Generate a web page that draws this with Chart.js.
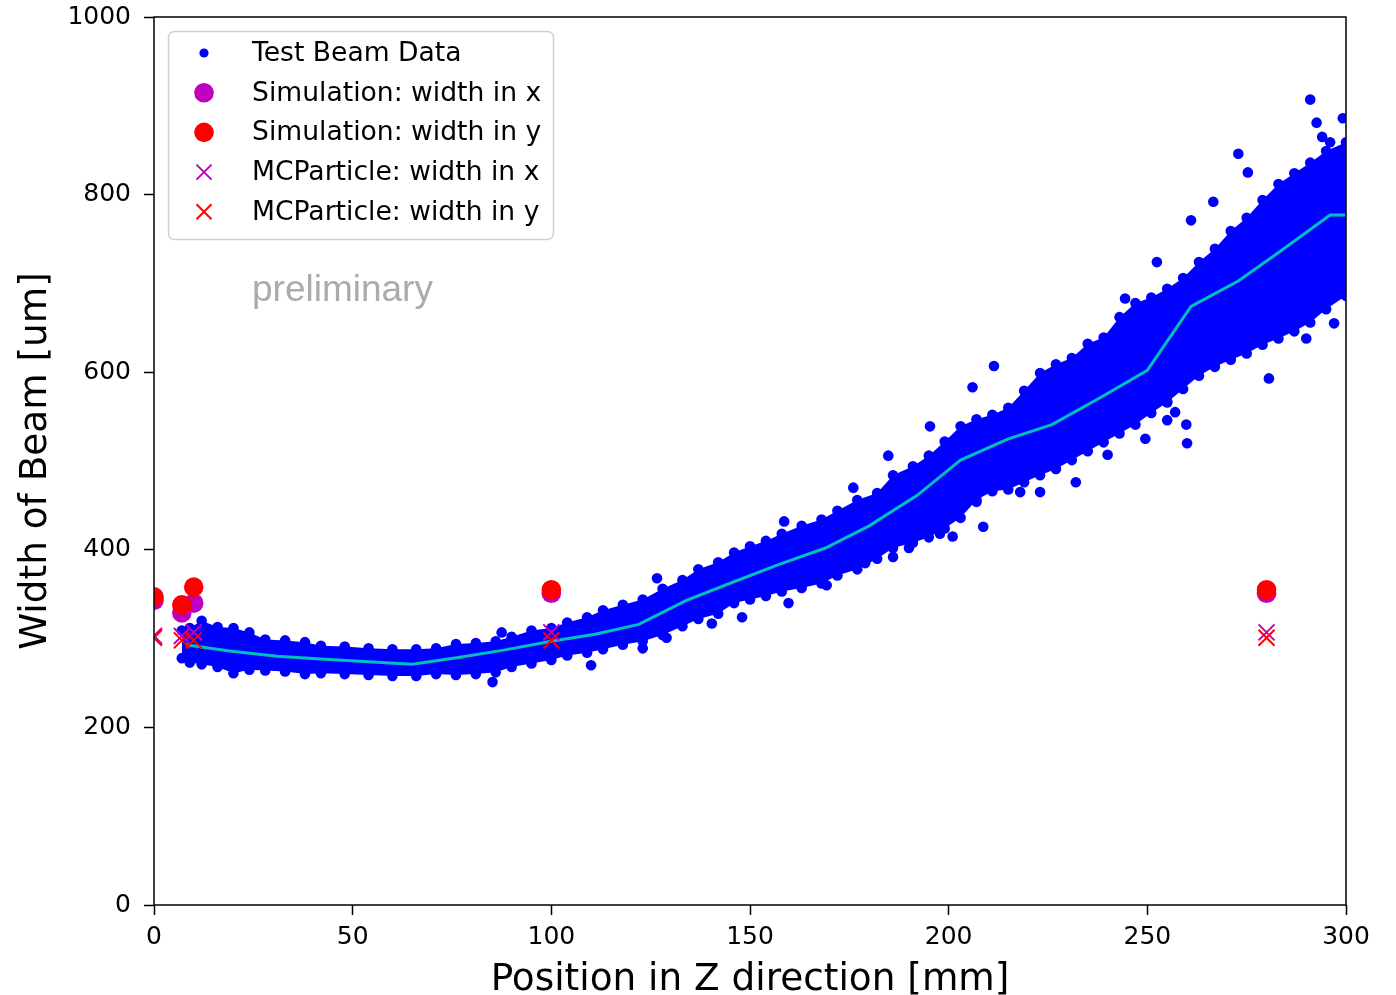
<!DOCTYPE html>
<html>
<head>
<meta charset="utf-8">
<script src="https://cdn.jsdelivr.net/npm/chart.js@4.4.0/dist/chart.umd.min.js"></script>
<style>
html,body{margin:0;padding:0;background:#fff;}
#wrap{position:relative;width:1396px;height:995px;}
</style>
</head>
<body>
<div id="wrap"><canvas id="c" width="1396" height="995"></canvas></div>
<script>
// ---------- data ----------
const xTicks = [0, 50, 100, 150, 200, 250, 300];
const yTicks = [0, 200, 400, 600, 800, 1000];

const simPos    = [0, 7, 10, 100, 280];
const simWidthX = [343, 329, 340, 351, 351];
const simWidthY = [347, 338, 358, 355, 355];

const mcPos    = [0, 7, 10, 100, 280];
const mcWidthX = [303, 303, 307, 307, 307];
const mcWidthY = [301, 298, 298, 298, 301];

const meanPos   = [8, 19, 31, 42, 54, 65, 77, 88, 100, 111, 122, 134, 146, 157, 169, 180, 192, 203, 215, 226, 238, 250, 261, 273, 284, 296, 300];
const meanWidth = [293, 286, 280, 277, 274, 271, 279, 287, 297, 305, 316, 343, 364, 383, 402, 427, 461, 501, 525, 541, 571, 602, 674, 703, 738, 777, 777];

// dense test-beam cloud: upper / lower envelope of point centres
const bandPos   = [7, 9, 12, 16, 20, 24, 28, 33, 38, 42, 48, 54, 60, 66, 71, 76, 81, 86, 90, 95, 100, 104, 109, 113, 118, 123, 128, 133, 137, 142, 146, 150, 154, 158, 163, 168, 172, 177, 182, 186, 191, 195, 199, 203, 207, 211, 215, 219, 223, 227, 231, 235, 239, 243, 247, 251, 255, 259, 263, 267, 271, 275, 279, 283, 287, 291, 295, 300];
const bandUpper = [309, 312, 320, 313, 312, 307, 299, 298, 296, 292, 291, 289, 288, 288, 289, 294, 295, 297, 302, 309, 312, 318, 324, 332, 338, 344, 356, 366, 378, 386, 397, 404, 410, 418, 427, 434, 444, 456, 464, 484, 494, 506, 522, 539, 547, 552, 560, 579, 599, 609, 616, 632, 639, 662, 678, 684, 694, 706, 724, 739, 759, 774, 794, 812, 824, 836, 849, 859];
const bandLower = [278, 273, 271, 268, 261, 265, 264, 263, 260, 261, 260, 259, 258, 258, 260, 259, 260, 262, 268, 272, 276, 281, 284, 288, 293, 297, 304, 314, 322, 328, 340, 344, 348, 353, 357, 362, 371, 378, 390, 402, 408, 414, 424, 436, 456, 466, 468, 476, 484, 491, 501, 511, 521, 531, 541, 554, 566, 581, 596, 606, 614, 621, 631, 638, 646, 656, 671, 686];

// isolated test-beam points outside the dense band
const outlierPos   = [85.2, 87.5, 110, 123, 126.6, 129, 140.4, 148, 158.6, 159.7, 169.3, 176, 179, 184.8, 186, 190, 195.3, 197.8, 201, 198.5, 206, 208.7, 211.4, 207, 218, 223, 232, 240, 244.4, 249.5, 252.4, 255, 255, 257, 259.8, 260, 261, 266.6, 272.9, 275.3, 280.6, 290, 291, 292.6, 294, 296, 297, 299.2];
const outlierWidth = [251, 307, 270, 289, 368, 301, 317, 324, 432, 340, 360, 470, 385, 506, 392, 402, 539, 418, 415, 435, 583, 426, 607, 454, 465, 465, 476, 507, 683, 525, 724, 546, 567, 555, 541, 520, 771, 792, 846, 825, 593, 638, 907, 881, 865, 859, 655, 886];

// ---------- helpers ----------
const pts = (xs, ys) => xs.map((x, i) => ({x: x, y: ys[i]}));
const BLUE = '#0000ff', MAG = '#bf00bf', RED = '#ff0000', CYAN = '#00bfbf';

Chart.defaults.font.family = '"DejaVu Sans", sans-serif';
Chart.defaults.color = '#000';

const legendItems = [
  {label: 'Test Beam Data', kind: 'dot', color: BLUE},
  {label: 'Simulation: width in x', kind: 'circle', color: MAG},
  {label: 'Simulation: width in y', kind: 'circle', color: RED},
  {label: 'MCParticle: width in x', kind: 'cross', color: MAG},
  {label: 'MCParticle: width in y', kind: 'cross', color: RED}
];

const framePlugin = {
  id: 'frame',
  afterDraw(chart) {
    const {ctx, chartArea: a} = chart;
    ctx.save();
    ctx.strokeStyle = '#000';
    ctx.lineWidth = 1.5;
    ctx.strokeRect(a.left, a.top, a.right - a.left, a.bottom - a.top);
    ctx.restore();
  }
};

const legendPlugin = {
  id: 'mplLegend',
  afterDraw(chart) {
    const ctx = chart.ctx;
    ctx.save();
    ctx.beginPath();
    ctx.roundRect(168.5, 31.5, 385, 208, 6);
    ctx.fillStyle = 'rgba(255,255,255,0.8)';
    ctx.fill();
    ctx.strokeStyle = '#d0d0d0';
    ctx.lineWidth = 1.5;
    ctx.stroke();
    ctx.font = '26.6px "DejaVu Sans"';
    ctx.textBaseline = 'middle';
    ctx.textAlign = 'left';
    legendItems.forEach((it, i) => {
      const cy = 53 + i * 39.7, cx = 204;
      if (it.kind === 'dot' || it.kind === 'circle') {
        ctx.beginPath();
        ctx.arc(cx, cy, it.kind === 'dot' ? 4.6 : 9.8, 0, Math.PI * 2);
        ctx.fillStyle = it.color;
        ctx.fill();
      } else {
        ctx.beginPath();
        ctx.moveTo(cx - 7.5, cy - 7.5); ctx.lineTo(cx + 7.5, cy + 7.5);
        ctx.moveTo(cx - 7.5, cy + 7.5); ctx.lineTo(cx + 7.5, cy - 7.5);
        ctx.strokeStyle = it.color;
        ctx.lineWidth = 2;
        ctx.stroke();
      }
      ctx.fillStyle = '#000';
      ctx.fillText(it.label, 252, cy + 1);
    });
    ctx.font = '37px "Liberation Sans"';
    ctx.fillStyle = '#ababab';
    ctx.textBaseline = 'alphabetic';
    ctx.fillText('preliminary', 252, 301);
    ctx.restore();
  }
};

new Chart(document.getElementById('c'), {
  type: 'line',
  data: {
    datasets: [
      {label: 'MCParticle: width in y', data: pts(mcPos, mcWidthY), showLine: false, pointStyle: 'crossRot', pointRadius: 11.3, pointBorderWidth: 2, borderColor: RED, backgroundColor: RED, order: 1, clip: 0},
      {label: 'MCParticle: width in x', data: pts(mcPos, mcWidthX), showLine: false, pointStyle: 'crossRot', pointRadius: 11.3, pointBorderWidth: 2, borderColor: MAG, backgroundColor: MAG, order: 2, clip: 0},
      {label: 'Simulation: width in y', data: pts(simPos, simWidthY), showLine: false, pointStyle: 'circle', pointRadius: 9.8, pointBorderWidth: 0, borderColor: RED, backgroundColor: RED, order: 3, clip: 0},
      {label: 'Simulation: width in x', data: pts(simPos, simWidthX), showLine: false, pointStyle: 'circle', pointRadius: 9.8, pointBorderWidth: 0, borderColor: MAG, backgroundColor: MAG, order: 4, clip: 0},
      {label: 'mean', data: pts(meanPos, meanWidth), showLine: true, pointRadius: 0, borderColor: CYAN, borderWidth: 3, fill: false, tension: 0, order: 5, clip: 0},
      {label: 'Test Beam Data', data: pts(outlierPos, outlierWidth), showLine: false, pointStyle: 'circle', pointRadius: 5.3, pointBorderWidth: 0, borderColor: BLUE, backgroundColor: BLUE, order: 6, clip: 0},
      {label: 'Test Beam Data (upper)', data: pts(bandPos, bandUpper), showLine: true, borderWidth: 0, borderColor: BLUE, pointStyle: 'circle', pointRadius: 5.3, pointBorderWidth: 0, pointBackgroundColor: BLUE, backgroundColor: BLUE, fill: false, tension: 0, order: 7, clip: 0},
      {label: 'Test Beam Data (lower)', data: pts(bandPos, bandLower), showLine: true, borderWidth: 0, borderColor: BLUE, pointStyle: 'circle', pointRadius: 5.3, pointBorderWidth: 0, pointBackgroundColor: BLUE, backgroundColor: BLUE, fill: 6, tension: 0, order: 7, clip: 0}
    ]
  },
  options: {
    responsive: false,
    animation: false,
    devicePixelRatio: 1,
    events: [],
    layout: {padding: {left: 0, right: 50, top: 17, bottom: 0}},
    plugins: {legend: {display: false}, tooltip: {enabled: false}, title: {display: false}},
    scales: {
      x: {
        type: 'linear', position: 'bottom', min: 0, max: 300,
        afterFit(s) { s.height = 90; s.paddingLeft = 0; s.paddingRight = 0; },
        afterBuildTicks(s) { s.ticks = xTicks.map(v => ({value: v})); },
        ticks: {font: {size: 25}, padding: 7, color: '#000', maxRotation: 0, callback: v => String(v)},
        grid: {display: true, drawOnChartArea: false, drawTicks: true, tickLength: 10, tickWidth: 1.5, tickColor: '#000'},
        border: {display: false},
        title: {display: true, text: 'Position in Z direction [mm]', font: {size: 37.4, lineHeight: 0.8}, padding: {top: 0, bottom: 0}, color: '#000'}
      },
      y: {
        type: 'linear', position: 'left', min: 0, max: 1000,
        afterFit(s) { s.width = 154; s.paddingTop = 0; s.paddingBottom = 0; },
        afterBuildTicks(s) { s.ticks = yTicks.map(v => ({value: v})); },
        ticks: {font: {size: 25}, padding: 13, color: '#000', callback: v => String(v)},
        grid: {display: true, drawOnChartArea: false, drawTicks: true, tickLength: 10, tickWidth: 1.5, tickColor: '#000'},
        border: {display: false},
        title: {display: true, text: 'Width of Beam [um]', font: {size: 37.4, lineHeight: 1.2}, padding: {top: 14, bottom: 0}, color: '#000'}
      }
    }
  },
  plugins: [framePlugin, legendPlugin]
});
</script>
</body>
</html>
